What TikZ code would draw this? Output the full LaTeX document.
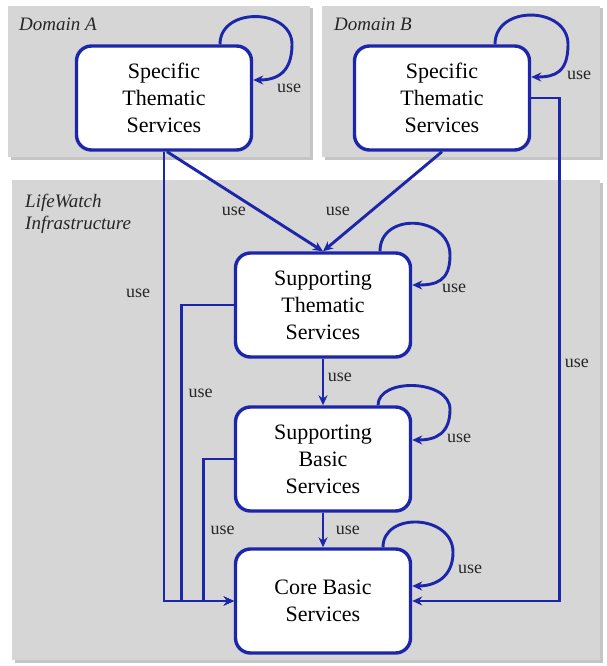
\documentclass[tikz,border=0pt]{standalone}
\usepackage{fontspec}
\setmainfont{Liberation Serif}
\usetikzlibrary{arrows.meta,shadows}
\definecolor{lwblue}{RGB}{28,38,170}
\definecolor{lwgray}{RGB}{214,214,214}

\begin{document}
\begin{tikzpicture}[x=1pt,y=-1pt]
\tikzstyle{panel}=[fill=lwgray, drop shadow={shadow xshift=2.5pt,shadow yshift=-2.5pt,opacity=0.45}]
\tikzstyle{service}=[draw=lwblue, line width=3.4pt, fill=white, text=black, rounded corners=15pt, minimum width=175pt, minimum height=104pt, align=center, font=\fontsize{22}{27}\selectfont]
\tikzstyle{link}=[lwblue, line width=2.9pt, -{Stealth[length=10pt,width=9pt]}]
\tikzstyle{lbl}=[text=black!85, font=\fontsize{18}{20}\selectfont]
\tikzstyle{title}=[text=black!85, font=\fontsize{19}{22}\selectfont\itshape, align=left, inner sep=0pt]
\useasboundingbox (0,0) rectangle (606,666);
\fill [white] (0,0) rectangle (606,666);
% panels
\path [panel] (8,6) rectangle (310,157);
\path [panel] (322,6) rectangle (600,157);
\path [panel] (12,180) rectangle (600,660);
\node [title, anchor=base west] (domA) at (19,31) {Domain A};
\node [title, anchor=base west] (domB) at (334,31) {Domain B};
\node [title, anchor=north west] (lifewatch) at (25,194) {LifeWatch\\Infrastructure};
% services
\node [service] (specA) at (164,98) {Specific\\Thematic\\Services};
\node [service] (specB) at (442,98) {Specific\\Thematic\\Services};
\node [service] (supThem) at (323,305) {Supporting\\Thematic\\Services};
\node [service] (supBasic) at (323,459) {Supporting\\Basic\\Services};
\node [service] (core) at (323,601) {Core Basic\\Services};
% uses
\draw [link] ([xshift=3pt]specA.south) -- node [lbl, pos=0.6, left=10pt] (u1) {use} (supThem.north);
\draw [link] (specB.south) -- node [lbl, pos=0.6, left=16pt] (u2) {use} (supThem.north);
\draw [link] (specA.south) -- node [lbl, pos=0.315, left=9pt] (u3) {use} (specA.south |- core.west) -- (core.west);
\draw [link] (supThem.west) -| node [lbl, pos=0.65, right=2pt] (u4) {use} ([xshift=-52pt]core.west) -- (core.west);
\draw [link] (supBasic.west) -| node [lbl, pos=0.75, right=2pt] (u5) {use} ([xshift=-30pt]core.west) -- (core.west);
\draw [link] (specB.east) -| node [lbl, pos=0.764, right=1pt] (u6) {use} ([xshift=147pt]core.east) -- (core.east);
\draw [link] (supThem) -- node [lbl, pos=0.4, right=0pt] (u7) {use} (supBasic);
\draw [link] (supBasic) -- node [lbl, right=8pt] (u8) {use} (core);
% self uses
\draw [link] ([xshift=56pt]specA.north) .. controls +(0,-38) and +(0,-36) .. ([xshift=128pt]specA.north) .. controls +(0,28) and +(24,0) .. ([yshift=18pt]specA.east) node [lbl, xshift=36pt, yshift=-8pt] (uA) {use};
\draw [link] ([xshift=53pt]specB.north) .. controls +(0,-40) and +(0,-38) .. ([xshift=126pt]specB.north) .. controls +(0,28) and +(24,0) .. ([yshift=21pt]specB.east) node [lbl, xshift=48pt, yshift=2pt] (uB) {use};
\draw [link] ([xshift=57pt]supThem.north) .. controls +(0,-40) and +(0,-40) .. ([xshift=127pt,yshift=-4pt]supThem.north) .. controls +(0,26) and +(24,0) .. ([yshift=20pt]supThem.east) node [lbl, xshift=42pt, yshift=-3pt] (uST) {use};
\draw [link] ([xshift=55pt]supBasic.north) .. controls +(0,-28) and +(0,-30) .. ([xshift=127pt,yshift=-4pt]supBasic.north) .. controls +(0,24) and +(24,0) .. ([yshift=19pt]supBasic.east) node [lbl, xshift=47pt, yshift=2pt] (uSB) {use};
\draw [link] ([xshift=60pt]core.north) .. controls +(0,-36) and +(0,-38) .. ([xshift=130pt,yshift=-5pt]core.north) .. controls +(0,24) and +(24,0) .. ([yshift=15pt]core.east) node [lbl, xshift=58pt, yshift=17pt] (uC) {use};
\end{tikzpicture}
\end{document}
